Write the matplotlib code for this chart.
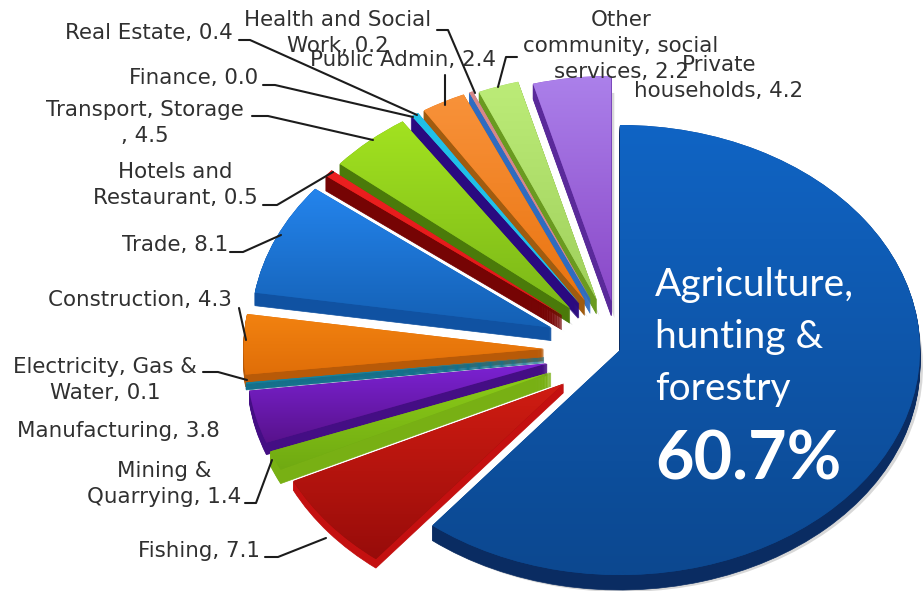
import numpy as np
import matplotlib
matplotlib.use("Agg")
import matplotlib.pyplot as plt
from matplotlib.colors import to_rgb

sectors = ["Agriculture", "Fishing", "Mining", "Manufacturing", "Electricity",
           "Construction", "Trade", "Hotels", "Transport", "Finance",
           "Real Estate", "Public Admin", "Health", "Other", "Private"]
shares = [60.7, 7.1, 1.4, 3.8, 0.1, 4.3, 8.1, 0.5, 4.5, 0.0, 0.4, 2.4, 0.2, 2.2, 4.2]

# Top face gradient (upper, lower) and side wall colour
top_light = ["#1064c4", "#d01c12", "#8ccc18", "#7c22d4", "#1a8cac", "#f28210", "#2484ec", "#ec2020",
             "#a2e220", "#20c0e8", "#20c0e8", "#f8923a", "#d88888", "#bcec78", "#ab80ea"]
top_dark = ["#0c4890", "#980c0a", "#70aa12", "#58128c", "#14809c", "#e06e08", "#1460b4", "#e01818",
            "#7cb818", "#20c0e8", "#20c0e8", "#ea7410", "#d88888", "#a0d05c", "#8a48c8"]
side_col = ["#0a2c62", "#c41010", "#78b014", "#440e84", "#14708c", "#b85a08", "#1052a2", "#760404",
            "#4a7a0a", "#2a0a80", "#2a0a80", "#a05c10", "#2f6cc0", "#6a9a20", "#5a2a9a"]

# Pull-out and wall height (px) of each slice
pull = [0.0, 0.24, 0.25, 0.25, 0.255, 0.255, 0.25, 0.25, 0.25, 0.25, 0.25, 0.25, 0.25, 0.24, 0.22]
wall = [15, 9, 14, 12, 6, 12, 13, 15, 15, 15, 15, 15, 15, 15, 15]

W, H = 923, 591
cx, cy, rx, ry = 620, 350, 300, 225  # pie centre and radii in pixels
depth = max(wall)

fig = plt.figure(figsize=(W / 100, H / 100), dpi=100, facecolor="white")
ax = fig.add_axes([0, 0, 1, 1])


def zo(i):
    return (len(shares) - i) * 10


def draw_pie(colors, dy=0.0, dx=0.0):
    wedges, _ = ax.pie(shares, explode=pull, colors=colors, startangle=90, counterclock=False,
                       center=(dx / rx, -dy / ry), wedgeprops={"linewidth": 0})
    return wedges


# soft shadow behind each slice
for i, w in enumerate(draw_pie(["#808080"] * len(shares), dy=depth + 2, dx=3)):
    w.set_alpha(0.3 if wall[i] == depth else 0.0)
    w.set_zorder(zo(i) - 2)

# side walls: the same pie stacked downwards
for d in range(depth, 0, -1):
    for i, w in enumerate(draw_pie(side_col, dy=d)):
        w.set_zorder(zo(i) - 1)
        if d > wall[i]:
            w.set_visible(False)
        else:
            w.set_edgecolor(side_col[i])
            w.set_linewidth(0.5)

# top faces with a vertical gradient clipped to each wedge
for i, w in enumerate(draw_pie(top_dark)):
    w.set_zorder(zo(i))
    if shares[i] == 0:
        continue
    box = w.get_path().get_extents()
    c1, c2 = np.array(to_rgb(top_light[i])), np.array(to_rgb(top_dark[i]))
    t = np.linspace(0, 1, 64)[:, None, None]
    img = c1[None, None, :] * (1 - t) + c2[None, None, :] * t
    im = ax.imshow(img, extent=(box.x0, box.x1, box.y0, box.y1), origin="upper",
                   aspect="auto", zorder=zo(i) + 1, interpolation="bilinear")
    im.set_clip_path(w)

ax.set_aspect("auto")
ax.set_xlim(-cx / rx, (W - cx) / rx)
ax.set_ylim((cy - H) / ry, cy / ry)
ax.axis("off")

# overlay in pixel coordinates for labels and leader lines
lay = fig.add_axes([0, 0, 1, 1], facecolor="none")
lay.set_xlim(0, W)
lay.set_ylim(H, 0)
lay.axis("off")

labels = [
    ("Other\ncommunity, social\nservices, 2.2", 621, 46, "center"),
    ("Private\nhouseholds, 4.2", 719, 78, "center"),
    ("Health and Social\nWork, 0.2", 338, 33, "center"),
    ("Public Admin, 2.4", 403, 60, "center"),
    ("Real Estate, 0.4", 233, 33, "right"),
    ("Finance, 0.0", 258, 78, "right"),
    ("Transport, Storage\n, 4.5", 145, 123, "center"),
    ("Hotels and\nRestaurant, 0.5", 175, 185, "center"),
    ("Trade, 8.1", 228, 245, "right"),
    ("Construction, 4.3", 232, 300, "right"),
    ("Electricity, Gas &\nWater, 0.1", 105, 380, "center"),
    ("Manufacturing, 3.8", 220, 431, "right"),
    ("Mining &\nQuarrying, 1.4", 164, 484, "center"),
    ("Fishing, 7.1", 260, 551, "right"),
]
for txt, x, y, ha in labels:
    lay.text(x, y, txt, ha=ha, va="center", ma="center", fontsize=15.4, color="#303030",
             family="DejaVu Sans", linespacing=1.38)

leaders = [
    [(239, 40), (250, 40), (417, 115)],
    [(263, 85), (275, 85), (413, 117)],
    [(252, 116), (268, 116), (373, 140)],
    [(263, 205), (277, 205), (333, 172)],
    [(230, 252), (243, 252), (281, 235)],
    [(239, 308), (246, 340)],
    [(203, 372), (218, 372), (247, 380)],
    [(245, 503), (256, 503), (272, 460)],
    [(265, 557), (278, 557), (326, 538)],
    [(437, 30), (448, 30), (475, 93)],
    [(445, 75), (445, 105)],
    [(517, 57), (506, 57), (498, 87)],
]
for pts in leaders:
    xs, ys = zip(*pts)
    lay.plot(xs, ys, color="#1c1c1c", lw=1.5, solid_capstyle="round")

for txt, y in [("Agriculture,", 285), ("hunting &", 337), ("forestry", 389)]:
    lay.text(655, y, txt, color="white", fontsize=28, family="Lato", va="center", ha="left")
lay.text(655, 460, "60.7%", color="white", fontsize=48, family="Lato", weight="bold", va="center", ha="left")

fig.savefig("out.png", dpi=100)
